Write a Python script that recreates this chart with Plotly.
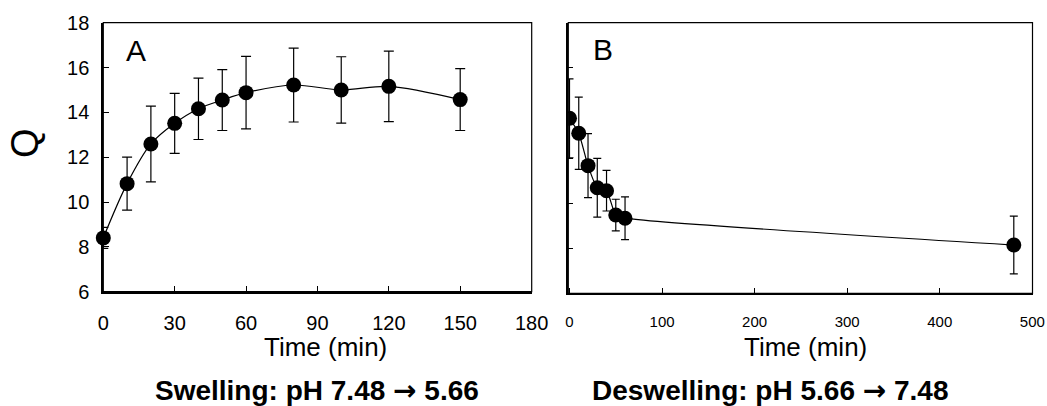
import plotly.graph_objects as go

W, H = 1047, 406

# Panel A: swelling
time_a = [0, 10, 20, 30, 40, 50, 60, 80, 100, 120, 150]
q_a = [8.40, 10.82, 12.59, 13.51, 14.16, 14.55, 14.88, 15.22, 15.00, 15.16, 14.57]
err_a = [0.47, 1.18, 1.69, 1.34, 1.37, 1.36, 1.62, 1.65, 1.48, 1.57, 1.38]

# Panel B: deswelling
time_b = [0, 10, 20, 30, 40, 50, 60, 480]
q_b = [13.76, 13.10, 11.66, 10.68, 10.55, 9.47, 9.33, 8.14]
err_b = [1.75, 1.60, 1.42, 1.30, 0.90, 0.70, 0.95, 1.28]

xticks_a = [0, 30, 60, 90, 120, 150, 180]
xticks_b = [0, 100, 200, 300, 400, 500]
yticks = [6, 8, 10, 12, 14, 16, 18]

FONT = "Liberation Sans, Arial, sans-serif"

def px(x):
    return x / W

def py(y):
    return 1 - y / H

xa_dom = [px(103.3), px(531.7)]
xb_dom = [px(568.3), px(1032.5)]
ya_dom = [py(291.7), py(22.7)]
yb_dom = [py(293.3), py(22.7)]

fig = go.Figure()

fig.add_trace(go.Scatter(
    x=time_a, y=q_a, mode="lines+markers",
    line=dict(color="black", width=1.2, shape="spline", smoothing=0.9),
    marker=dict(color="black", size=15),
    error_y=dict(type="data", array=err_a, visible=True, color="black", thickness=1.2, width=5),
    cliponaxis=False, xaxis="x", yaxis="y", showlegend=False,
))

fig.add_trace(go.Scatter(
    x=time_b, y=q_b, mode="lines+markers",
    line=dict(color="black", width=1.2, shape="spline", smoothing=0.6),
    marker=dict(color="black", size=15),
    error_y=dict(type="data", array=err_b, visible=True, color="black", thickness=1.2, width=4),
    cliponaxis=True, xaxis="x2", yaxis="y2", showlegend=False,
))

axis_common = dict(showgrid=False, zeroline=False, showline=True, linecolor="black",
                   linewidth=2, mirror=False, ticks="inside", tickcolor="black",
                   automargin=False)

fig.update_layout(
    template="none",
    width=W, height=H,
    margin=dict(l=0, r=0, t=0, b=0, pad=0),
    paper_bgcolor="white", plot_bgcolor="white",
    font=dict(family=FONT, color="black"),
    xaxis=dict(domain=xa_dom, range=[0, 180.05], tickvals=xticks_a, ticklen=6, tickwidth=1,
               tickfont=dict(size=20, family=FONT), ticklabelstandoff=12, anchor="y", **axis_common),
    yaxis=dict(domain=ya_dom, range=[6, 18], tickvals=yticks, ticklen=6, tickwidth=1,
               tickfont=dict(size=20, family=FONT), ticklabelstandoff=8, anchor="x", **axis_common),
    xaxis2=dict(domain=xb_dom, range=[-1.3, 500.2], tickvals=xticks_b, ticklen=5, tickwidth=1,
                tickfont=dict(size=15, family=FONT), ticklabelstandoff=14, anchor="y2", **axis_common),
    yaxis2=dict(domain=yb_dom, range=[6, 18], tickvals=yticks, ticklen=5, tickwidth=1,
                showticklabels=False, anchor="x2", **axis_common),
)

# thin box borders (top/right)
for xd, yd in [(xa_dom, ya_dom), (xb_dom, yb_dom)]:
    fig.add_shape(type="rect", xref="paper", yref="paper",
                  x0=xd[0], x1=xd[1], y0=yd[0], y1=yd[1],
                  line=dict(color="black", width=1.2), layer="above")

ARROW = '<span style="font-family:DejaVu Sans">→</span>'
ann = [
    dict(text="Q", x=px(25), y=py(143), textangle=-90, font=dict(size=38)),
    dict(text="A", x=px(135.5), y=py(50.8), font=dict(size=30)),
    dict(text="B", x=px(602.5), y=py(49.5), font=dict(size=30)),
    dict(text="Time (min)", x=px(325.5), y=py(347), font=dict(size=26)),
    dict(text="Time (min)", x=px(805), y=py(347), font=dict(size=26)),
    dict(text=f"<b>Swelling: pH 7.48 {ARROW} 5.66</b>", x=px(316.5), y=py(390), font=dict(size=28)),
    dict(text=f"<b>Deswelling: pH 5.66 {ARROW} 7.48</b>", x=px(770.5), y=py(390), font=dict(size=28)),
]
for a in ann:
    fig.add_annotation(xref="paper", yref="paper", showarrow=False,
                       xanchor="center", yanchor="middle", **a)

fig.write_html("out.html")
